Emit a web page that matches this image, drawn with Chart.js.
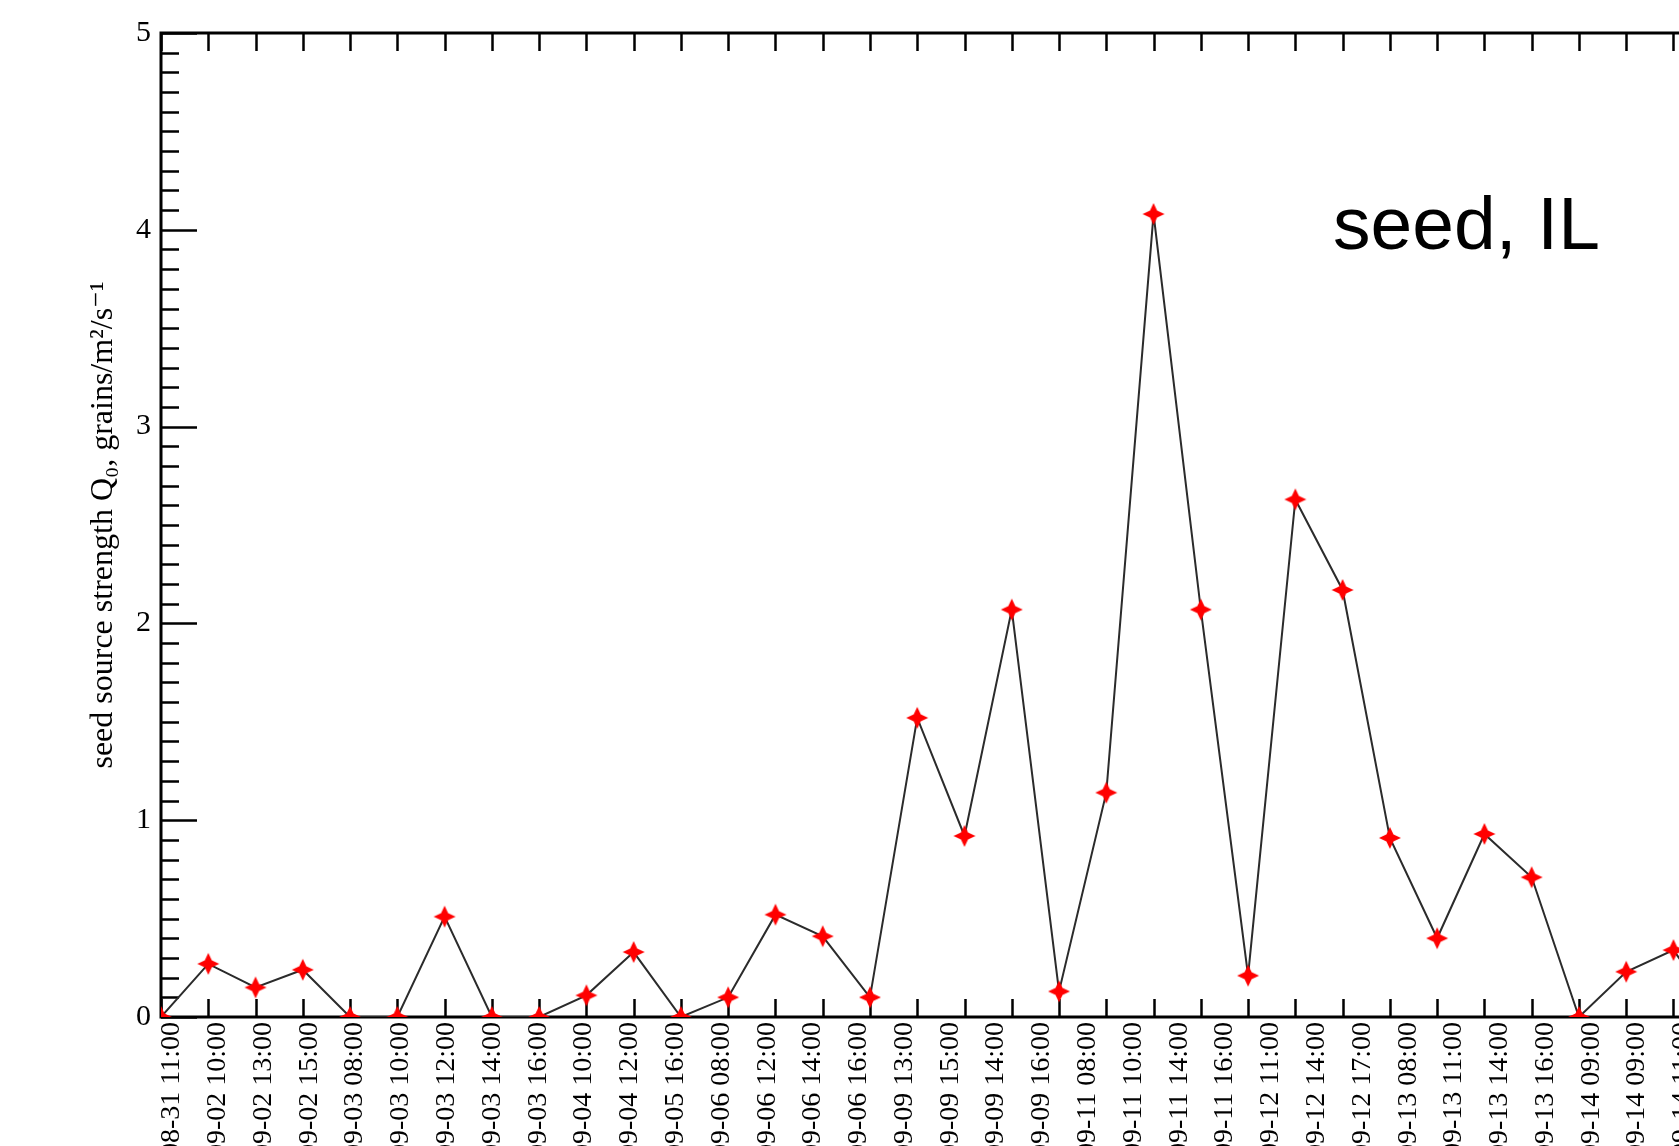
<!DOCTYPE html>
<html>
<head>
<meta charset="utf-8">
<title>seed, IL</title>
<script src="https://cdn.jsdelivr.net/npm/chart.js@4.4.1/dist/chart.umd.min.js"></script>
<style>
  html, body { margin: 0; padding: 0; background: #fff; overflow: hidden; }
  #wrap { width: 1790px; height: 1200px; }
</style>
</head>
<body>
<div id="wrap"><canvas id="chart" width="1790" height="1200"></canvas></div>
<script>
// sampling times (tick labels) and source strength values
const timeLabels = [
    '08-31 11:00', '09-02 10:00', '09-02 13:00', '09-02 15:00', '09-03 08:00',
    '09-03 10:00', '09-03 12:00', '09-03 14:00', '09-03 16:00', '09-04 10:00',
    '09-04 12:00', '09-05 16:00', '09-06 08:00', '09-06 12:00', '09-06 14:00',
    '09-06 16:00', '09-09 13:00', '09-09 15:00', '09-09 14:00', '09-09 16:00',
    '09-11 08:00', '09-11 10:00', '09-11 14:00', '09-11 16:00', '09-12 11:00',
    '09-12 14:00', '09-12 17:00', '09-13 08:00', '09-13 11:00', '09-13 14:00',
    '09-13 16:00', '09-14 09:00', '09-14 09:00', '09-14 11:00'
];
const seedStrength = [
    0, 0.27, 0.15, 0.24, 0, 0, 0.51, 0, 0, 0.11,
    0.33, 0, 0.10, 0.52, 0.41, 0.10, 1.52, 0.92, 2.07, 0.13,
    1.14, 4.08, 2.07, 0.21, 2.63, 2.17, 0.91, 0.40, 0.93, 0.71,
    0, 0.23, 0.34, 0
];
const yTicks = [0, 1, 2, 3, 4, 5];

const serif = '"Liberation Serif", "DejaVu Serif", serif';

// red four-pointed star marker
function makeStar() {
    const c = document.createElement('canvas');
    c.width = 24;
    c.height = 24;
    const g = c.getContext('2d');
    g.fillStyle = '#ff0000';
    g.beginPath();
    for (let k = 0; k < 8; k++) {
        const r = k % 2 === 0 ? 11 : 5;
        const a = -Math.PI / 2 + k * Math.PI / 4;
        const px = 12 + r * Math.cos(a);
        const py = 12 + r * Math.sin(a);
        if (k === 0) g.moveTo(px, py); else g.lineTo(px, py);
    }
    g.closePath();
    g.fill();
    return c;
}

// box around the plot with inward tick marks
const framePlugin = {
    id: 'frame',
    beforeDatasetsDraw(chart) {
        const { ctx, chartArea: a, scales } = chart;
        const x = scales.x, y = scales.y;
        ctx.save();
        ctx.strokeStyle = '#000';
        ctx.lineWidth = 2.5;
        ctx.beginPath();
        for (let v = Math.ceil(x.min); v <= x.max; v++) {
            const px = Math.round(x.getPixelForValue(v)) + 0.5;
            ctx.moveTo(px, a.bottom);
            ctx.lineTo(px, a.bottom - 18);
            ctx.moveTo(px, a.top);
            ctx.lineTo(px, a.top + 18);
        }
        y.ticks.forEach(t => {
            const py = Math.round(y.getPixelForValue(t.value)) + 0.5;
            const major = Math.abs(t.value - Math.round(t.value)) < 1e-6;
            const len = major ? 36 : 18;
            ctx.moveTo(a.left, py);
            ctx.lineTo(a.left + len, py);
            ctx.moveTo(a.right, py);
            ctx.lineTo(a.right - len, py);
        });
        ctx.stroke();
        ctx.lineWidth = 3;
        ctx.strokeRect(a.left, a.top, a.right - a.left, a.bottom - a.top);
        ctx.restore();
    },
    afterDraw(chart) {
        const ctx = chart.ctx;
        ctx.save();
        ctx.fillStyle = '#000';
        ctx.font = '75px "Liberation Sans", Arial, sans-serif';
        ctx.textBaseline = 'alphabetic';
        ctx.textAlign = 'left';
        ctx.fillText('seed, IL', 1333, 249);
        ctx.restore();
    }
};

new Chart(document.getElementById('chart'), {
    type: 'line',
    data: {
        datasets: [{
            data: seedStrength.map((v, i) => ({ x: i, y: v })),
            borderColor: '#2b2b2b',
            borderWidth: 2,
            tension: 0,
            fill: false,
            pointStyle: makeStar(),
            pointRadius: 11,
            clip: 0
        }]
    },
    options: {
        responsive: false,
        animation: false,
        layout: { padding: { top: 33, right: 22, bottom: 0, left: 0 } },
        plugins: {
            legend: { display: false },
            tooltip: { enabled: false }
        },
        scales: {
            x: {
                type: 'linear',
                display: false,
                min: 0,
                max: 34
            },
            xl: {
                type: 'linear',
                position: 'bottom',
                min: -0.24,
                max: 34.86,
                grid: { display: false, drawTicks: false },
                border: { display: false },
                afterBuildTicks: s => { s.ticks = timeLabels.map((_, i) => ({ value: i })); },
                afterFit: s => { s.height = 183; },
                ticks: {
                    autoSkip: false,
                    minRotation: 90,
                    maxRotation: 90,
                    padding: 5,
                    color: '#000',
                    font: { family: serif, size: 28 },
                    callback: v => timeLabels[v]
                }
            },
            y: {
                type: 'linear',
                min: 0,
                max: 5,
                grid: { display: false, drawTicks: false },
                border: { display: false },
                afterFit: s => { s.width = 161; },
                ticks: {
                    stepSize: 0.1,
                    autoSkip: false,
                    padding: 10,
                    color: '#000',
                    font: { family: serif, size: 30 },
                    callback: v => {
                        const n = Math.round(v);
                        return Math.abs(v - n) < 1e-6 && yTicks.includes(n) ? String(n) : '';
                    }
                },
                title: {
                    display: true,
                    text: 'seed source strength Q\u2080, grains/m\u00b2/s\u207b\u00b9',
                    color: '#000',
                    font: { family: serif, size: 32 },
                    padding: { top: 84, bottom: 0 }
                }
            }
        }
    },
    plugins: [framePlugin]
});
</script>
</body>
</html>
